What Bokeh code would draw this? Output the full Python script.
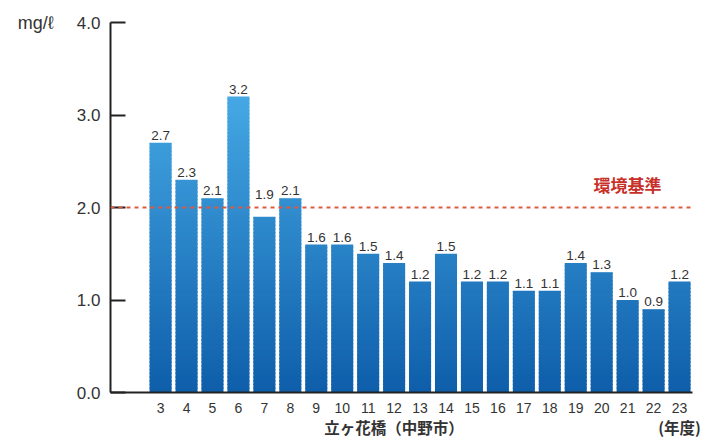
from bokeh.plotting import figure
from bokeh.models import ColumnDataSource, Span, Label, FixedTicker, CustomJSTickFormatter, LinearAxis
from bokeh.core.properties import value
from bokeh.embed import file_html
from bokeh.resources import INLINE

years = [3, 4, 5, 6, 7, 8, 9, 10, 11, 12, 13, 14, 15, 16, 17, 18, 19, 20, 21, 22, 23]
bod = [2.7, 2.3, 2.1, 3.2, 1.9, 2.1, 1.6, 1.6, 1.5, 1.4, 1.2, 1.5, 1.2, 1.2, 1.1, 1.1, 1.4, 1.3, 1.0, 0.9, 1.2]
y_ticks = [0, 1, 2, 3, 4]
standard = 2.0
unit_label = "mg/ℓ"
x_title = "立ヶ花橋（中野市）"
x_unit = "(年度)"
standard_label = "環境基準"

p = figure(width=707, height=440, output_backend="svg", toolbar_location=None,
           x_range=(1.07, 23.5), y_range=(0, 4.0),
           min_border_left=110, min_border_right=15, min_border_top=22, min_border_bottom=48)
p.outline_line_color = None
p.grid.grid_line_color = None
p.background_fill_color = "white"
p.border_fill_color = "white"

def lerp(c1, c2, t):
    return "#%02x%02x%02x" % tuple(int(round(a + (b - a) * t)) for a, b in zip(c1, c2))

bottom_c = (0x0e, 0x5e, 0xaa)
top_c = (0x45, 0xa8, 0xe4)
step = 0.04
xs, bs, ts, cs = [], [], [], []
nlayers = int(round(4.0 / step))
for yr, v in zip(years, bod):
    for k in range(nlayers):
        y0 = k * step
        if y0 >= v - 1e-9:
            break
        y1 = min(v, y0 + step + 0.015)
        xs.append(yr); bs.append(y0); ts.append(y1)
        cs.append(lerp(bottom_c, top_c, min(1.0, (y0 + step / 2) / 3.2)))
src = ColumnDataSource(dict(x=xs, bottom=bs, top=ts, color=cs))
p.vbar(x="x", bottom="bottom", top="top", width=0.85, fill_color="color", line_color=None, source=src)

# value labels; a label that would collide with the standard line is lifted above it
label_y = [standard + 0.06 if standard - 0.2 < v < standard else v for v in bod]
lsrc = ColumnDataSource(dict(x=years, y=label_y, t=["%.1f" % v for v in bod]))
p.text(x="x", y="y", text="t", source=lsrc, text_align="center", text_baseline="bottom",
       y_offset=-3, text_font=value("Liberation Sans"), text_font_size="13.5px", text_color="#333333")

p.add_layout(Span(location=standard, dimension="width", line_color="#dc5a3c",
                  line_dash="4 4", line_width=2))
p.add_layout(Label(x=483, x_units="screen", y=standard, text=standard_label, y_offset=11,
                   text_font="Noto Sans CJK JP", text_font_size="17px", text_font_style="bold",
                   text_color="#c8302a"))

ya = p.yaxis[0]
ya.ticker = FixedTicker(ticks=y_ticks)
ya.formatter = CustomJSTickFormatter(code="return tick.toFixed(1);")
ya.axis_line_color = "#222222"
ya.axis_line_width = 2
ya.major_tick_in = 15
ya.major_tick_out = 0
ya.major_tick_line_width = 2
ya.major_tick_line_color = "#222222"
ya.minor_tick_line_color = None
ya.major_label_text_font = "Liberation Sans"
ya.major_label_text_font_size = "17px"
ya.major_label_text_color = "#333333"
ya.major_label_standoff = 10

xa = p.xaxis[0]
xa.ticker = FixedTicker(ticks=years)
xa.axis_line_color = "#222222"
xa.axis_line_width = 2
xa.major_tick_line_color = None
xa.minor_tick_line_color = None
xa.major_label_text_font = "Liberation Sans"
xa.major_label_text_font_size = "14px"
xa.major_label_text_color = "#333333"
xa.major_label_standoff = 4

xa2 = LinearAxis(ticker=FixedTicker(ticks=[12, 23]),
                 major_label_overrides={12: x_title, 23: x_unit})
xa2.axis_line_color = None
xa2.major_tick_line_color = None
xa2.minor_tick_line_color = None
xa2.major_label_text_font = "Noto Sans CJK JP"
xa2.major_label_text_font_size = "15.5px"
xa2.major_label_text_font_style = "bold"
xa2.major_label_text_color = "#333333"
xa2.major_label_standoff = -6
p.add_layout(xa2, "below")

ya2 = LinearAxis(ticker=FixedTicker(ticks=[4]), major_label_overrides={4: unit_label})
ya2.axis_line_color = None
ya2.major_tick_line_color = None
ya2.minor_tick_line_color = None
ya2.major_label_text_font = "Liberation Sans"
ya2.major_label_text_font_size = "18px"
ya2.major_label_text_color = "#333333"
ya2.major_label_standoff = 14
p.add_layout(ya2, "left")

open("out.html", "w").write(file_html(p, INLINE))
